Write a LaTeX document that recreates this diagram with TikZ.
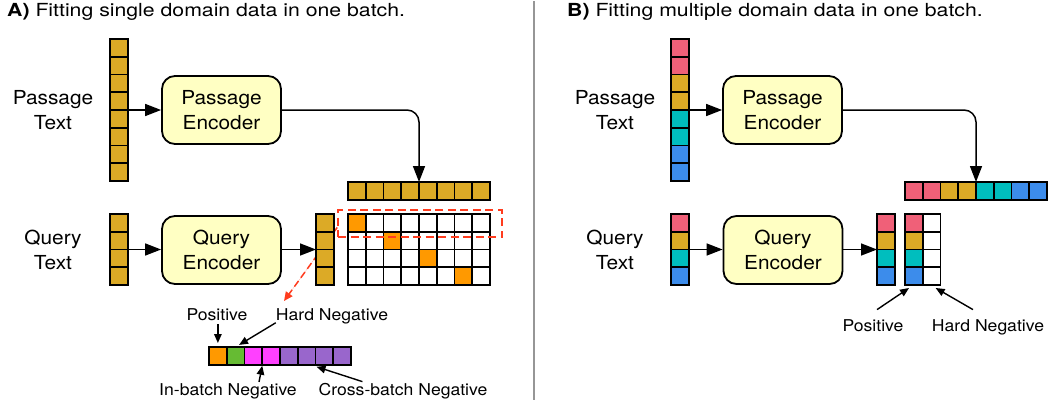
\documentclass[tikz,border=0pt]{standalone}
\usepackage{fontspec}
\setmainfont{TeX Gyre Heros}[FakeStretch=1.08]
\newfontfamily\titlefont{TeX Gyre Heros}[FakeStretch=1.18]
\usetikzlibrary{arrows.meta,calc}
\definecolor{cgold}{RGB}{220,170,38}
\definecolor{corange}{RGB}{255,153,0}
\definecolor{cgreen}{RGB}{102,187,51}
\definecolor{cmag}{RGB}{255,64,255}
\definecolor{cpurp}{RGB}{153,102,204}
\definecolor{cpink}{RGB}{240,96,120}
\definecolor{cteal}{RGB}{0,190,190}
\definecolor{cblue}{RGB}{60,140,235}
\definecolor{cyel}{RGB}{255,255,195}
\definecolor{cred}{RGB}{255,60,30}
\definecolor{cdiv}{RGB}{150,150,150}
\newcommand{\labfont}{\fontsize{19.3}{24.5}\selectfont}
\newcommand{\smallfont}{\fontsize{16.3}{19}\selectfont}
\begin{document}
\begin{tikzpicture}[x=1pt,y=-1pt,
  cell/.style={draw=black,line width=1.8pt,minimum width=17.75pt,minimum height=17.75pt,inner sep=0pt,outer sep=0pt,anchor=north west},
  enc/.style={draw=black,line width=1.8pt,fill=cyel,rounded corners=13pt,minimum width=119pt,minimum height=68pt,align=center,font=\labfont,inner sep=0pt},
  lab/.style={align=center,font=\labfont,inner sep=0pt},
  smalllab/.style={font=\smallfont,inner sep=0pt,anchor=base},
  arr/.style={-{Triangle[length=16pt,width=12pt]},line width=1.5pt},
  sarr/.style={-{Triangle[length=9pt,width=7.5pt]},line width=1.4pt},
  rarr/.style={-{Triangle[length=9pt,width=8pt]},line width=1.5pt,draw=cred,fill=cred,dash pattern=on 7pt off 4pt},
  titlestyle/.style={font=\titlefont\fontsize{18}{22}\selectfont,inner sep=0pt,anchor=base west},
]
\useasboundingbox (0,0) rectangle (1048,407);

% ---------- titles ----------
\node[titlestyle] (tA) at (7,16.7) {\textbf{A)} Fitting single domain data in one batch.};
\node[titlestyle] (tB) at (567,16.7) {\textbf{B)} Fitting multiple domain data in one batch.};
\draw[cdiv,line width=1.3pt] (534,1) -- (534,400);

% ================= Panel A =================
\foreach \i in {1,...,8}
  \node[cell,fill=cgold] (pa\i) at (110,{39+(\i-1)*17.75}) {};
\node[lab] (ptA) at (53,110) {Passage\\Text};
\node[enc] (pencA) at (221.5,110) {Passage\\Encoder};
\draw[arr] (pa4.south east) -- (pencA.west);

\foreach \i in {1,...,8}
  \node[cell,fill=cgold] (ra\i) at ({348+(\i-1)*17.75},182) {};
\draw[arr,rounded corners=12pt] (pencA.east) -| (ra4.north east);

\foreach \i in {1,...,4}
  \node[cell,fill=cgold] (qa\i) at (110,{214+(\i-1)*17.75}) {};
\node[lab] (qtA) at (53,250) {Query\\Text};
\node[enc] (qencA) at (221.5,250) {Query\\Encoder};
\draw[arr] (qa2.south east) -- (qa2.south east -| qencA.west);

% matrix
\foreach \r in {1,...,4}
  \foreach \c in {1,...,8}
    \node[cell,fill=white] (ma\r\c) at ({348+(\c-1)*17.75},{214+(\r-1)*17.75}) {};
\foreach \r/\c in {1/1,2/3,3/5,4/7}
  \node[cell,fill=corange] (oa\r) at ({348+(\c-1)*17.75},{214+(\r-1)*17.75}) {};

% highlight
\node[draw=cred,line width=1.6pt,dash pattern=on 8pt off 4.5pt,minimum width=164pt,minimum height=27pt,inner sep=0pt] (hl) at (420,223.5) {};
\coordinate (hlend) at (284,301);
\draw[rarr] ($(hl.west)+(0,4)$) -- (hlend);

% query output column
\foreach \i in {1,...,4}
  \node[cell,fill=cgold] (qo\i) at (316,{214+(\i-1)*17.75}) {};
\draw[arr] (qencA.east |- qo2.south west) -- (qo2.south west);

% bottom bar
\foreach \c [count=\i] in {corange,cgreen,cmag,cmag,cpurp,cpurp,cpurp,cpurp}
  \node[cell,fill=\c] (bb\i) at ({209+(\i-1)*17.75},347) {};
\node[smalllab] (lpos) at (217,320) {Positive};
\node[smalllab] (lhardA) at (332,320) {Hard Negative};
\node[smalllab] (linb) at (228,395) {In-batch Negative};
\node[smalllab] (lcross) at (403,395) {Cross-batch Negative};
\draw[sarr,shorten <=4pt,shorten >=4pt] (bb1.north |- lpos.south) -- (bb1.north);
\draw[sarr,shorten >=4pt] ($(lhardA.south west)+(0,-1)$) -- (bb2.north);
\draw[sarr] ($(linb.north)+(31,-1)$) -- ($(bb3.south east)+(0,1)$);
\draw[sarr] ($(lcross.north west)+(44,-1)$) -- ($(bb7.south west)+(1,2)$);

% ================= Panel B =================
\foreach \c [count=\i] in {cpink,cpink,cgold,cgold,cteal,cteal,cblue,cblue}
  \node[cell,fill=\c] (pb\i) at (671,{39+(\i-1)*17.75}) {};
\node[lab] (ptB) at (615,110) {Passage\\Text};
\node[enc] (pencB) at (782.5,110) {Passage\\Encoder};
\draw[arr] (pb4.south east) -- (pencB.west);

\foreach \c [count=\i] in {cpink,cpink,cgold,cgold,cteal,cteal,cblue,cblue}
  \node[cell,fill=\c] (rb\i) at ({905+(\i-1)*17.75},182) {};
\draw[arr,rounded corners=12pt] (pencB.east) -| (rb4.north east);

\foreach \c [count=\i] in {cpink,cgold,cteal,cblue}
  \node[cell,fill=\c] (qb\i) at (671,{214+(\i-1)*17.75}) {};
\node[lab] (qtB) at (615,250) {Query\\Text};
\node[enc] (qencB) at (783,250) {Query\\Encoder};
\draw[arr] (qb2.south east) -- (qb2.south east -| qencB.west);

\foreach \c [count=\i] in {cpink,cgold,cteal,cblue}
  \node[cell,fill=\c] (qob\i) at (877,{214+(\i-1)*17.75}) {};
\draw[arr] (qencB.east |- qob2.south west) -- (qob2.south west);

\foreach \c [count=\i] in {cpink,cgold,cteal,cblue} {
  \node[cell,fill=\c] (mb\i1) at (905,{214+(\i-1)*17.75}) {};
  \node[cell,fill=white] (mb\i2) at (922.75,{214+(\i-1)*17.75}) {};
}
\node[smalllab] (lposB) at (873,331.7) {Positive};
\node[smalllab] (lhardB) at (988,331.7) {Hard Negative};
\draw[sarr] ($(lposB.north)+(4,-10)$) -- ($(mb41.south west)+(4,3)$);
\draw[sarr] ($(lhardB.north)+(-15,-10)$) -- ($(mb42.south)+(4,3)$);
\end{tikzpicture}
\end{document}
